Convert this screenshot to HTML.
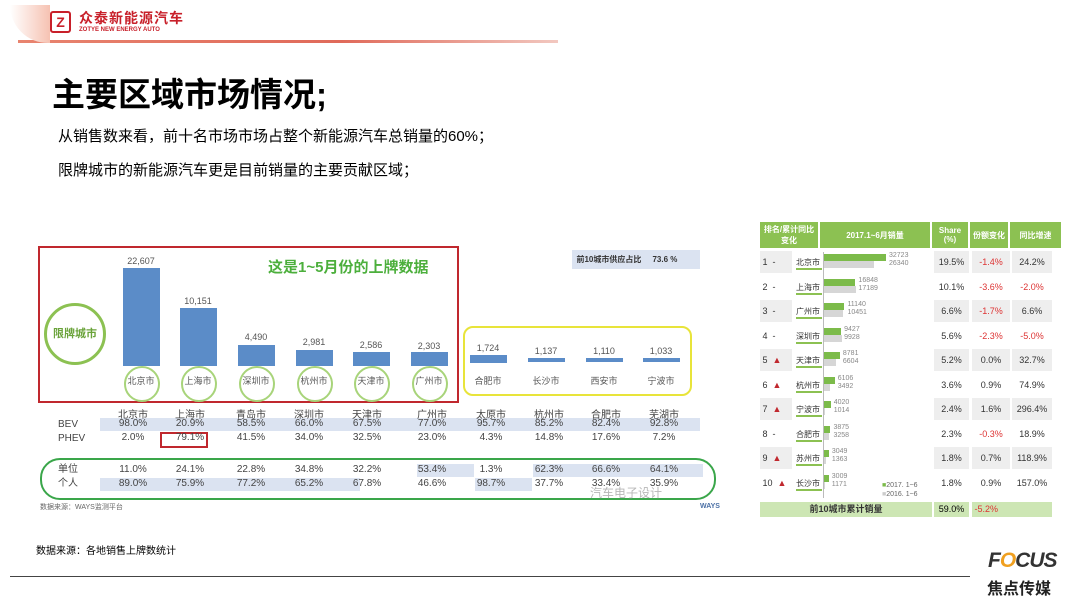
<!DOCTYPE html><html><head><meta charset="utf-8"><style>
body{margin:0;width:1080px;height:608px;background:#fff;position:relative;overflow:hidden;font-family:"Liberation Sans","Noto Sans CJK SC",sans-serif;}
.a{position:absolute}
.c{position:absolute;text-align:center;font-size:9px;color:#555;width:56px;margin-left:-28px}
.cell{position:absolute;height:13px;background:#dbe3f1}
.bar{position:absolute;background:#5b8cc8;width:37px;margin-left:-18px}
.rt td{font-size:8px;color:#333;text-align:center;padding:0;height:24px}
</style></head><body>
<!-- header -->
<div class="a" style="left:18px;top:40px;width:540px;height:3px;background:linear-gradient(90deg,#e8846f,#e06a5a 60%,#f2c8c0)"></div>
<div class="a" style="left:10px;top:5px;width:40px;height:38px;border-bottom-left-radius:40px;background:linear-gradient(90deg,#fff,#f6c2b2)"></div>
<div class="a" style="left:50px;top:11px;width:17px;height:18px;border:2px solid #c8202a;border-radius:3px;color:#c8202a;font-weight:bold;font-size:14px;line-height:18px;text-align:center">Z</div>
<div class="a" style="left:79px;top:8px;font-size:14px;font-weight:bold;color:#c8202a;letter-spacing:1px">众泰新能源汽车</div>
<div class="a" style="left:79px;top:27px;font-size:6px;font-weight:bold;color:#c8202a">ZOTYE NEW ENERGY AUTO</div>
<div class="a" style="left:52px;top:68px;font-size:33px;font-weight:bold;color:#000">主要区域市场情况;</div>
<div class="a" style="left:58px;top:125px;font-size:15px;color:#000">从销售数来看，前十名市场市场占整个新能源汽车总销量的60%；</div>
<div class="a" style="left:58px;top:159px;font-size:15px;color:#000">限牌城市的新能源汽车更是目前销量的主要贡献区域；</div>
<!-- left chart -->
<div class="a" style="left:38px;top:246px;width:417px;height:153px;border:2px solid #c0282e"></div>
<div class="a" style="left:463px;top:326px;width:225px;height:66px;border:2px solid #e8e43a;border-radius:10px"></div>
<div class="a" style="left:40px;top:458px;width:672px;height:38px;border:2px solid #3aa64a;border-radius:20px"></div>
<div class="a" style="left:268px;top:256px;font-size:15px;font-weight:bold;color:#4caf3c">这是1~5月份的上牌数据</div>
<div class="a" style="left:44px;top:303px;width:56px;height:56px;border:3px solid #8cc152;border-radius:50%;font-size:11px;color:#6aa33a;font-weight:bold;text-align:center;line-height:56px">限牌城市</div>
<div class="a" style="left:572px;top:250px;width:128px;height:19px;background:#dbe3f1;font-size:8px;line-height:19px;color:#333;font-weight:bold">&nbsp;&nbsp;前10城市供应占比&nbsp;&nbsp;&nbsp;&nbsp;&nbsp;73.6 %</div>
<div class="bar" style="left:141px;top:268px;height:98px"></div><div class="c" style="left:141px;top:256px">22,607</div>
<div class="bar" style="left:198px;top:308px;height:58px"></div><div class="c" style="left:198px;top:296px">10,151</div>
<div class="bar" style="left:256px;top:345px;height:21px"></div><div class="c" style="left:256px;top:332px">4,490</div>
<div class="bar" style="left:314px;top:350px;height:16px"></div><div class="c" style="left:314px;top:337px">2,981</div>
<div class="bar" style="left:371px;top:352px;height:14px"></div><div class="c" style="left:371px;top:340px">2,586</div>
<div class="bar" style="left:429px;top:352px;height:14px"></div><div class="c" style="left:429px;top:341px">2,303</div>
<div class="bar" style="left:488px;top:355px;height:8px"></div><div class="c" style="left:488px;top:343px">1,724</div>
<div class="bar" style="left:546px;top:358px;height:4px"></div><div class="c" style="left:546px;top:346px">1,137</div>
<div class="bar" style="left:604px;top:358px;height:4px"></div><div class="c" style="left:604px;top:346px">1,110</div>
<div class="bar" style="left:661px;top:358px;height:4px"></div><div class="c" style="left:661px;top:346px">1,033</div>
<div class="a" style="left:124px;top:366px;width:32px;height:32px;border:2px solid #a8d47a;border-radius:50%"></div><div class="c" style="left:141px;top:374px">北京市</div>
<div class="a" style="left:181px;top:366px;width:32px;height:32px;border:2px solid #a8d47a;border-radius:50%"></div><div class="c" style="left:198px;top:374px">上海市</div>
<div class="a" style="left:239px;top:366px;width:32px;height:32px;border:2px solid #a8d47a;border-radius:50%"></div><div class="c" style="left:256px;top:374px">深圳市</div>
<div class="a" style="left:297px;top:366px;width:32px;height:32px;border:2px solid #a8d47a;border-radius:50%"></div><div class="c" style="left:314px;top:374px">杭州市</div>
<div class="a" style="left:354px;top:366px;width:32px;height:32px;border:2px solid #a8d47a;border-radius:50%"></div><div class="c" style="left:371px;top:374px">天津市</div>
<div class="a" style="left:412px;top:366px;width:32px;height:32px;border:2px solid #a8d47a;border-radius:50%"></div><div class="c" style="left:429px;top:374px">广州市</div>
<div class="c" style="left:488px;top:374px">合肥市</div><div class="c" style="left:546px;top:374px">长沙市</div><div class="c" style="left:604px;top:374px">西安市</div><div class="c" style="left:661px;top:374px">宁波市</div>
<!-- table -->
<div class="cell" style="left:100px;top:418px;width:600px"></div>
<div class="cell" style="left:100px;top:478px;width:260px"></div>
<div class="cell" style="left:417px;top:464px;width:57px"></div>
<div class="cell" style="left:475px;top:478px;width:57px"></div>
<div class="cell" style="left:533px;top:464px;width:170px"></div>
<div class="a" style="left:160px;top:432px;width:44px;height:12px;border:2px solid #c0282e"></div>
<div class="a" style="left:58px;top:418px;font-size:10px;color:#444;line-height:14px">BEV<br>PHEV</div>
<div class="a" style="left:58px;top:463px;font-size:10px;color:#444;line-height:14px">单位<br>个人</div>
<div id="t"></div>
<div class="a" style="left:40px;top:502px;font-size:7px;color:#666">数据来源：WAYS监测平台</div>
<div class="a" style="left:700px;top:503px;font-size:7px;color:#4a6fa5;font-weight:bold">WAYS</div>
<div class="a" style="left:590px;top:484px;font-size:12px;color:#999;opacity:.7">汽车电子设计</div>
<div class="a" style="left:36px;top:542px;font-size:10px;color:#000">数据来源：各地销售上牌数统计</div>
<!-- right table -->
<table class="a rt" style="left:758px;top:220px;width:305px;border-collapse:separate;border-spacing:2px">
<tr style="background:#8cc152;color:#fff"><td style="color:#fff;width:58px;height:26px;font-weight:bold">排名/累计同比变化</td><td style="color:#fff;width:110px;font-weight:bold">2017.1~6月销量</td><td style="color:#fff;width:36px;font-weight:bold">Share (%)</td><td style="color:#fff;width:38px;font-weight:bold">份额变化</td><td style="color:#fff;font-weight:bold">同比增速</td></tr>
</table>
<div id="r"></div>
<div class="a" style="left:760px;top:502px;width:172px;height:15px;background:#cde6b4;font-size:9px;font-weight:bold;text-align:center;line-height:15px;color:#333">前10城市累计销量</div>
<div class="a" style="left:934px;top:502px;width:35px;height:15px;background:#cde6b4;font-size:9px;text-align:center;line-height:15px">59.0%</div>
<div class="a" style="left:972px;top:502px;width:80px;height:15px;background:#cde6b4;font-size:9px;line-height:15px;color:#d33">&nbsp;-5.2%</div>
<!-- footer -->
<div class="a" style="left:10px;top:576px;width:960px;height:1px;background:#444"></div>
<div class="a" style="left:988px;top:549px;font-size:21px;font-weight:bold;font-style:italic;color:#333;letter-spacing:-1px">F<span style="color:#f0a020">O</span>CUS</div>
<div class="a" style="left:987px;top:575px;font-size:16px;font-weight:bold;color:#222">焦点传媒</div>
<script>
var X=[133,190,251,309,367,432,491,549,606,664];
var C=["北京市","上海市","青岛市","深圳市","天津市","广州市","太原市","杭州市","合肥市","芜湖市"];
var R=[["98.0%","20.9%","58.5%","66.0%","67.5%","77.0%","95.7%","85.2%","82.4%","92.8%"],["2.0%","79.1%","41.5%","34.0%","32.5%","23.0%","4.3%","14.8%","17.6%","7.2%"],["11.0%","24.1%","22.8%","34.8%","32.2%","53.4%","1.3%","62.3%","66.6%","64.1%"],["89.0%","75.9%","77.2%","65.2%","67.8%","46.6%","98.7%","37.7%","33.4%","35.9%"]];
var Y=[406,418,432,464,478],h="";
for(var i=0;i<10;i++){h+='<div class="c" style="left:'+X[i]+'px;top:'+Y[0]+'px;font-size:10px;color:#444">'+C[i]+'</div>';
for(var j=0;j<4;j++)h+='<div class="c" style="left:'+X[i]+'px;top:'+Y[j+1]+'px;font-size:10px;color:#444">'+R[j][i]+'</div>';}
document.getElementById("t").innerHTML=h;
var D=[["1","-","北京市",32723,26340,"19.5%","-1.4%","24.2%"],["2","-","上海市",16848,17189,"10.1%","-3.6%","-2.0%"],["3","-","广州市",11140,10451,"6.6%","-1.7%","6.6%"],["4","-","深圳市",9427,9928,"5.6%","-2.3%","-5.0%"],["5","▲","天津市",8781,6604,"5.2%","0.0%","32.7%"],["6","▲","杭州市",6106,3492,"3.6%","0.9%","74.9%"],["7","▲","宁波市",4020,1014,"2.4%","1.6%","296.4%"],["8","-","合肥市",3875,3258,"2.3%","-0.3%","18.9%"],["9","▲","苏州市",3049,1363,"1.8%","0.7%","118.9%"],["10","▲","长沙市",3009,1171,"1.8%","0.9%","157.0%"]];
h="";
for(var k=0;k<10;k++){var d=D[k],y=251+k*24.5,bg=k%2==0?"#eee":"#fff";
h+='<div class="a" style="left:760px;top:'+y+'px;width:32px;height:22px;background:'+bg+';font-size:9px;line-height:22px;color:#333">&nbsp;'+d[0]+'&nbsp;&nbsp;<span style="color:'+(d[1]=="▲"?"#c0282e":"#333")+'">'+d[1]+'</span></div>';
h+='<div class="a" style="left:796px;top:'+(y+6)+'px;font-size:8px;color:#333;border-bottom:2px solid #8cc152;width:26px">'+d[2]+'</div>';
var w1=d[3]/32723*63,w2=d[4]/32723*63;
h+='<div class="a" style="left:823px;top:'+(y+3)+'px;width:'+w1+'px;height:7px;background:#7cbb4a"></div>';
h+='<div class="a" style="left:823px;top:'+(y+10)+'px;width:'+w2+'px;height:7px;background:#d6d6d6"></div>';
h+='<div class="a" style="left:'+(826+w1)+'px;top:'+(y+1)+'px;font-size:7px;color:#888;line-height:8px">'+d[3]+'<br>'+d[4]+'</div>';
var cs=["#333","#333","#333"];if(d[6][0]=="-")cs[1]="#d33";if(d[7][0]=="-")cs[2]="#d33";
[[934,35,d[5],cs[0]],[972,38,d[6],cs[1]],[1012,40,d[7],cs[2]]].forEach(function(c){h+='<div class="a" style="left:'+c[0]+'px;top:'+y+'px;width:'+c[1]+'px;height:22px;background:'+bg+';font-size:9px;text-align:center;line-height:22px;color:'+c[3]+'">'+c[2]+'</div>';});}
h+='<div class="a" style="left:823px;top:252px;width:1px;height:246px;background:#bbb"></div>';
h+='<div class="a" style="left:882px;top:481px;font-size:7px;color:#666;line-height:9px"><span style="color:#7cbb4a">■</span>2017. 1~6<br><span style="color:#ccc">■</span>2016. 1~6</div>';
document.getElementById("r").innerHTML=h;
</script>
</body></html>
